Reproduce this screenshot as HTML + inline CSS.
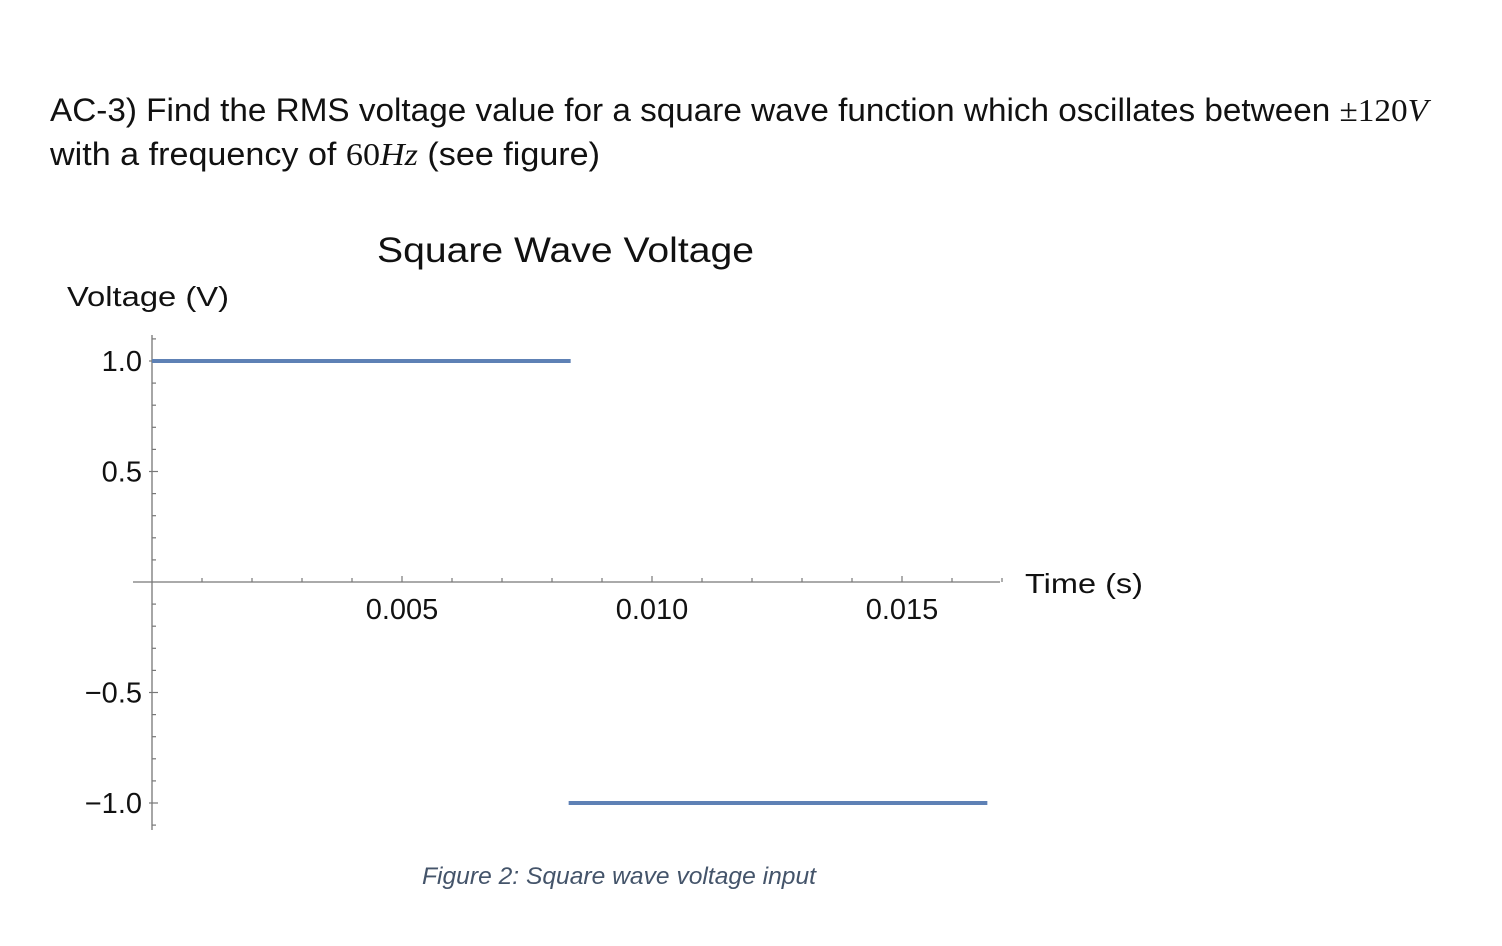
<!DOCTYPE html>
<html><head><meta charset="utf-8"><style>
html,body{margin:0;padding:0;background:#fff;}
svg{display:block;font-family:"Liberation Sans",sans-serif;}
</style></head><body>
<svg id="svg" width="1502" height="946" viewBox="0 0 1502 946">
<text x="50" y="121" font-size="32" textLength="1378" lengthAdjust="spacingAndGlyphs" fill="#111">AC-3) Find the RMS voltage value for a square wave function which oscillates between <tspan font-family="Liberation Serif">±120<tspan font-style="italic">V</tspan></tspan></text>
<text x="50" y="165" font-size="32" textLength="550" lengthAdjust="spacingAndGlyphs" fill="#111">with a frequency of <tspan font-family="Liberation Serif">60<tspan font-style="italic">Hz</tspan></tspan> (see figure)</text>
<text x="377" y="262" font-size="35" textLength="377" lengthAdjust="spacingAndGlyphs" fill="#111">Square Wave Voltage</text>
<text x="67" y="306" font-size="28" textLength="162" lengthAdjust="spacingAndGlyphs" fill="#111">Voltage (V)</text>
<text x="1025" y="593" font-size="28" textLength="118" lengthAdjust="spacingAndGlyphs" fill="#111">Time (s)</text>
<g id="axes"></g>
<g id="series"></g>
<text x="422" y="884" font-size="24" font-style="italic" textLength="394" lengthAdjust="spacingAndGlyphs" fill="#44546a">Figure 2: Square wave voltage input</text>
</svg>
<script>
const xTickValues=[0.005,0.010,0.015];
const xTickLabels=["0.005","0.010","0.015"];
const yTickValues=[1.0,0.5,-0.5,-1.0];
const yTickLabels=["1.0","0.5","\u22120.5","\u22121.0"];
const segStart=[0,0.008333];
const segEnd=[0.008333,0.016667];
const segValue=[1,-1];

const NS="http://www.w3.org/2000/svg";
const X0=152, XS=50000;
const Y0=582, YS=221;
const sx=t=>X0+t*XS;
const sy=v=>Y0-v*YS;
const axes=document.getElementById('axes');
const series=document.getElementById('series');
function mk(tag,attrs,parent){const e=document.createElementNS(NS,tag);for(const k in attrs)e.setAttribute(k,attrs[k]);parent.appendChild(e);return e;}
const stroke="#777";
let ax=mk('line',{x1:133,y1:Y0,x2:1000,y2:Y0,stroke:stroke,'stroke-width':1.3},axes);


let ay=mk('line',{x1:X0,y1:335,x2:X0,y2:830,stroke:stroke,'stroke-width':1.3},axes);


for(let i=1;i<=17;i++){
  const x=sx(i*0.001);const major=(i%5===0);
  const t=mk('line',{x1:x,y1:Y0,x2:x,y2:Y0-(major?6:4),stroke:stroke,'stroke-width':1.2},axes);
  
  
}
for(let i=-11;i<=11;i++){
  if(i===0)continue;
  const y=sy(i*0.1);const major=(i%5===0);
  const t=mk('line',{x1:major?X0-3:X0,y1:y,x2:X0+(major?6:4),y2:y,stroke:stroke,'stroke-width':1.2},axes);
  
  
}
xTickValues.forEach((v,i)=>{
  const t=mk('text',{x:sx(v),y:Y0+37,'font-size':29,'text-anchor':'middle',fill:'#111'},axes);
  t.textContent=xTickLabels[i];
  
  
});
yTickValues.forEach((v,i)=>{
  const t=mk('text',{x:X0-10,y:sy(v)+10,'font-size':29,'text-anchor':'end',fill:'#111'},axes);
  t.textContent=yTickLabels[i];
  
  
});
segValue.forEach((v,i)=>{
  const l=mk('line',{x1:sx(segStart[i]),y1:sy(v),x2:sx(segEnd[i])+2,y2:sy(v),stroke:'#5e81b5','stroke-width':4},series);
  
  
});
</script>
</body></html>
